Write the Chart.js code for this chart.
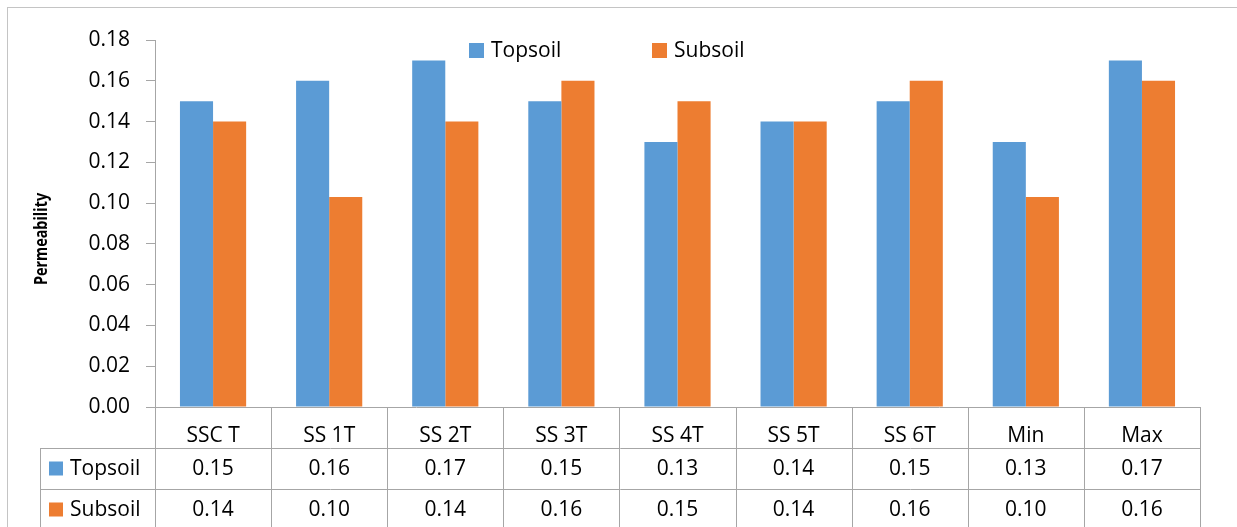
<!DOCTYPE html>
<html>
<head>
<meta charset="utf-8">
<script src="https://cdn.jsdelivr.net/npm/chart.js@4.4.1/dist/chart.umd.min.js"></script>
<style>
  html, body { margin: 0; padding: 0; background: #fff; }
  #wrap { position: relative; width: 1237px; height: 527px; overflow: hidden; }
  #frame { position: absolute; left: 7px; top: 7px; width: 1300px; height: 600px;
           border-left: 1px solid #c4c4c4; border-top: 1px solid #c4c4c4; }
  canvas { position: absolute; left: 0; top: 0; }
</style>
</head>
<body>
<div id="wrap">
  <div id="frame"></div>
  <canvas id="chart" width="1237" height="527"></canvas>
</div>
<script>
const categories = ["SSC T", "SS 1T", "SS 2T", "SS 3T", "SS 4T", "SS 5T", "SS 6T", "Min", "Max"];
const topsoil = [0.15, 0.16, 0.17, 0.15, 0.13, 0.14, 0.15, 0.13, 0.17];
const subsoil = [0.14, 0.103, 0.14, 0.16, 0.15, 0.14, 0.16, 0.103, 0.16];
const seriesNames = ["Topsoil", "Subsoil"];
const seriesColors = ["#5b9bd5", "#ed7d31"];
const yTicks = { min: 0, max: 0.18, step: 0.02 };

const FONT = '"Open Sans", "Noto Sans", sans-serif';
const lineColor = "#a6a6a6";

// data table under the axis + legend + y title, drawn on the canvas
const tablePlugin = {
  id: "dataTable",
  afterDraw(chart) {
    const ctx = chart.ctx;
    const xs = chart.scales.x;
    const area = chart.chartArea;
    const n = categories.length;
    const rowH = 41;
    const y0 = area.bottom, y1 = y0 + rowH, y2 = y1 + rowH, y3 = y2 + rowH;
    const legLeft = 40;

    ctx.save();
    ctx.strokeStyle = lineColor;
    ctx.lineWidth = 1;
    ctx.beginPath();
    for (let i = 0; i <= n; i++) {
      const px = Math.round(xs.getPixelForValue(i - 0.5)) + 0.5;
      ctx.moveTo(px, y0);
      ctx.lineTo(px, y3);
    }
    [y1, y2].forEach(y => {
      const py = Math.round(y) + 0.5;
      ctx.moveTo(legLeft + 0.5, py);
      ctx.lineTo(Math.round(xs.right) + 0.5, py);
    });
    ctx.moveTo(legLeft + 0.5, y1);
    ctx.lineTo(legLeft + 0.5, y3);
    ctx.stroke();

    ctx.font = "21px " + FONT;
    ctx.fillStyle = "#000";
    ctx.textBaseline = "middle";
    const rows = [topsoil, subsoil];
    rows.forEach((vals, r) => {
      const cy = y1 + rowH * r + rowH / 2;
      ctx.textAlign = "center";
      vals.forEach((v, i) => {
        ctx.fillText(v.toFixed(2), xs.getPixelForValue(i), cy + 1);
      });
      ctx.fillStyle = seriesColors[r];
      ctx.fillRect(49, cy - 7, 14, 14);
      ctx.fillStyle = "#000";
      ctx.textAlign = "left";
      ctx.fillText(seriesNames[r], 70, cy + 1);
    });

    // legend inside the plot
    const legX = [469, 652];
    seriesNames.forEach((name, r) => {
      ctx.fillStyle = seriesColors[r];
      ctx.fillRect(legX[r], 43, 15, 15);
      ctx.fillStyle = "#000";
      ctx.textAlign = "left";
      ctx.fillText(name, legX[r] + 22, 51);
    });

    // y axis title (narrowed a bit, the original font is condensed)
    ctx.translate(42, 239);
    ctx.rotate(-Math.PI / 2);
    ctx.scale(0.8, 1);
    ctx.font = "bold 18px " + FONT;
    ctx.textAlign = "center";
    ctx.fillText("Permeability", 0, 0);
    ctx.restore();
  }
};

new Chart(document.getElementById("chart"), {
  type: "bar",
  data: {
    labels: categories,
    datasets: [
      { label: seriesNames[0], data: topsoil, backgroundColor: seriesColors[0] },
      { label: seriesNames[1], data: subsoil, backgroundColor: seriesColors[1] }
    ]
  },
  options: {
    responsive: false,
    animation: false,
    devicePixelRatio: 1,
    layout: { padding: { top: 40, right: 37, left: 0, bottom: 0 } },
    datasets: { bar: { categoryPercentage: 0.57, barPercentage: 1 } },
    plugins: { legend: { display: false }, tooltip: { enabled: false } },
    scales: {
      x: {
        grid: { display: false },
        border: { display: true, color: lineColor, width: 1 },
        ticks: { color: "#000", font: { family: FONT, size: 21 }, padding: 8, maxRotation: 0 },
        afterFit: s => { s.height = 120; }
      },
      y: {
        min: yTicks.min,
        max: yTicks.max,
        grid: { drawOnChartArea: false, drawTicks: true, tickLength: 9, color: lineColor },
        border: { display: true, color: lineColor, width: 1 },
        ticks: {
          stepSize: yTicks.step,
          color: "#000",
          font: { family: FONT, size: 21 },
          padding: 16,
          callback: v => Number(v).toFixed(2)
        },
        afterFit: s => { s.width = 155; }
      }
    }
  },
  plugins: [tablePlugin]
});
</script>
</body>
</html>
